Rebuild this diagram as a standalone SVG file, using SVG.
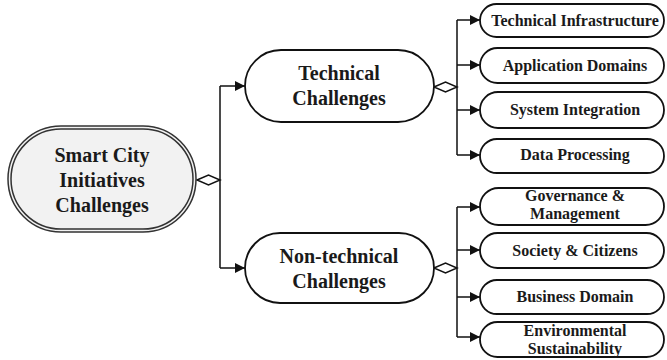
<svg xmlns="http://www.w3.org/2000/svg" width="667" height="360" viewBox="0 0 667 360">
<style>
.n{fill:#fff;stroke:#111;stroke-width:1.8}
text{font-family:'Times New Roman','Liberation Serif','DejaVu Serif',serif;font-weight:700;fill:#1a1a1a;text-anchor:middle}
.big{font-size:20px}
.sm{font-size:16px}
.c{fill:none;stroke:#111;stroke-width:1.5}
.d{fill:#fff;stroke:#111;stroke-width:1.5}
</style>
<defs>
<marker id="ah" viewBox="0 0 10 10" refX="10" refY="5" markerWidth="10" markerHeight="10" markerUnits="userSpaceOnUse" orient="auto">
<path d="M0,0 L10,5 L0,10 z" fill="#111"/>
</marker>
</defs>
<g id="connectors">
<path class="c" d="M220,180 V86 M220,180 V268"/>
<path class="c" d="M220,86 H245" marker-end="url(#ah)"/>
<path class="c" d="M220,268 H245" marker-end="url(#ah)"/>
<path class="c" d="M457,87 V20 M457,87 V155"/>
<path class="c" d="M457,20 H480" marker-end="url(#ah)"/>
<path class="c" d="M457,65 H480" marker-end="url(#ah)"/>
<path class="c" d="M457,110 H480" marker-end="url(#ah)"/>
<path class="c" d="M457,155 H480" marker-end="url(#ah)"/>
<path class="c" d="M457,268 V207 M457,268 V337"/>
<path class="c" d="M457,207 H480" marker-end="url(#ah)"/>
<path class="c" d="M457,250 H480" marker-end="url(#ah)"/>
<path class="c" d="M457,297 H480" marker-end="url(#ah)"/>
<path class="c" d="M457,337 H480" marker-end="url(#ah)"/>
<path class="d" d="M197,180 L208.5,175 L220,180 L208.5,185 z"/>
<path class="d" d="M434,87 L445.5,82 L457,87 L445.5,92 z"/>
<path class="d" d="M434,268 L445.5,263 L457,268 L445.5,273 z"/>
</g>
<g id="root">
<rect x="8" y="126" width="188" height="106" rx="53" fill="#f2f2f2" stroke="#333" stroke-width="1.5"/>
<rect x="11" y="129" width="182" height="100" rx="50" fill="none" stroke="#333" stroke-width="1.5"/>
<text class="big" x="102" y="162">Smart City</text>
<text class="big" x="102" y="187">Initiatives</text>
<text class="big" x="102" y="212">Challenges</text>
</g>
<g id="technical">
<rect class="n" x="245" y="50" width="189" height="72" rx="36"/>
<text class="big" x="339" y="80">Technical</text>
<text class="big" x="339" y="105">Challenges</text>
</g>
<g id="nontechnical">
<rect class="n" x="245" y="233" width="189" height="70" rx="35"/>
<text class="big" x="339" y="263">Non-technical</text>
<text class="big" x="339" y="288">Challenges</text>
</g>
<g id="tech-infra">
<rect class="n" x="480" y="4" width="184" height="33" rx="16.5"/>
<text class="sm" x="575" y="26">Technical Infrastructure</text>
</g>
<g id="app-domains">
<rect class="n" x="480" y="48" width="184" height="35" rx="17.5"/>
<text class="sm" x="575" y="71">Application Domains</text>
</g>
<g id="sys-integration">
<rect class="n" x="480" y="92" width="184" height="36" rx="18"/>
<text class="sm" x="575" y="115">System Integration</text>
</g>
<g id="data-processing">
<rect class="n" x="480" y="139" width="184" height="34" rx="17"/>
<text class="sm" x="575" y="160">Data Processing</text>
</g>
<g id="governance">
<rect class="n" x="480" y="188" width="184" height="37" rx="18.5"/>
<text class="sm" x="575" y="201">Governance &amp;</text>
<text class="sm" x="575" y="219">Management</text>
</g>
<g id="society">
<rect class="n" x="480" y="233" width="184" height="35" rx="17.5"/>
<text class="sm" x="575" y="256">Society &amp; Citizens</text>
</g>
<g id="business">
<rect class="n" x="480" y="280" width="184" height="34" rx="17"/>
<text class="sm" x="575" y="302">Business Domain</text>
</g>
<g id="environmental">
<rect class="n" x="480" y="322" width="184" height="35" rx="17.5"/>
<text class="sm" x="575" y="336">Environmental</text>
<text class="sm" x="575" y="354">Sustainability</text>
</g>
</svg>
